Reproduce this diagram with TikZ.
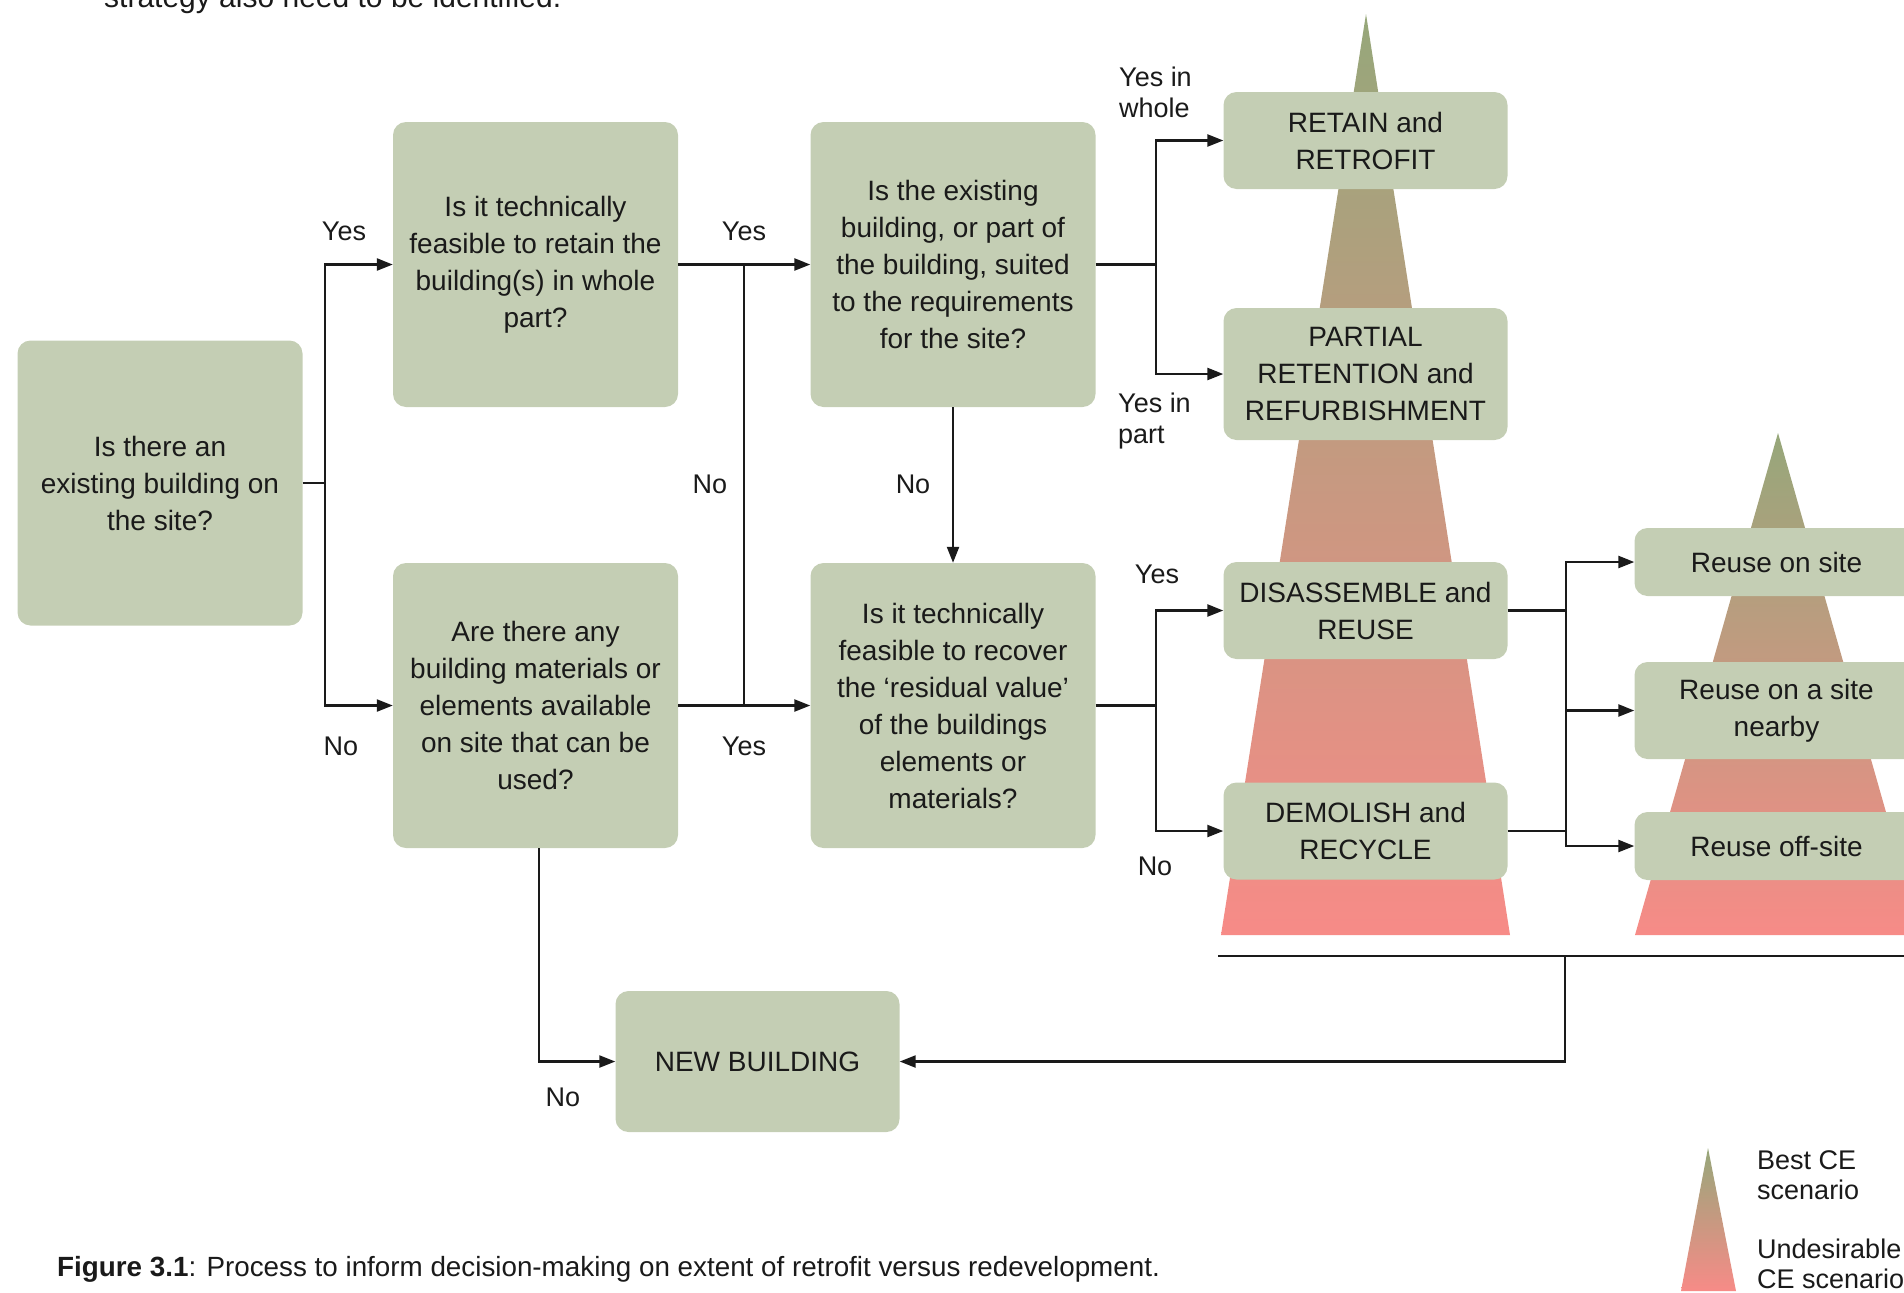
\documentclass[tikz,border=0pt]{standalone}
\usepackage{fontspec}
\setmainfont{Liberation Sans}
\usetikzlibrary{arrows.meta}
\definecolor{boxfill}{HTML}{C4CEB4}
\definecolor{ink}{HTML}{1A1A1A}
\definecolor{tipgreen}{HTML}{96A77A}
\definecolor{basepink}{HTML}{F78B87}
\begin{document}
\begin{tikzpicture}[
  x=1pt,
  y=-1pt,
  box/.style={rectangle, rounded corners=13pt, fill=boxfill, inner sep=0pt,
    align=center, text=ink, font=\fontsize{28}{37}\selectfont},
  question/.style={box, minimum width=285pt, minimum height=285pt},
  outcome/.style={box, minimum width=284pt},
  answer/.style={inner sep=0pt, text=ink, align=left,
    font=\fontsize{27}{31}\selectfont},
  flow/.style={line width=2.3pt, draw=ink},
  arrow/.style={flow, -{Triangle[length=16pt,width=12pt]}},
  peak/.style={top color=tipgreen, bottom color=basepink}]
\useasboundingbox (0,0) rectangle (1904,1293);
% end of the paragraph above the figure, cut by the page
\node[anchor=base west, inner sep=0pt, text=ink, font=\fontsize{30}{36}\selectfont]
  (prev) at (104,7) {strategy also need to be identified.};
% scenario triangles
\shade[peak] (1366,14) -- (1510,935) -- (1221,935) -- cycle;
\shade[peak] (1778,433) -- (1921,935) -- (1635,935) -- cycle;
\shade[peak] (1708,1148) -- (1736,1291) -- (1681,1291) -- cycle;
\draw[line width=2.6pt, ink] (1218,956) -- (1904,956);
% questions
\path
  (160,483) node[question] (exist) {Is there an\\existing building on\\the site?}
  (535.5,264.5) node[question] (retain) {Is it technically\\feasible to retain the\\building(s) in whole\\part?}
  (953,264.5) node[question] (suited) {Is the existing\\building, or part of\\the building, suited\\to the requirements\\for the site?}
  (535.5,705.5) node[question] (materials) {Are there any\\building materials or\\elements available\\on site that can be\\used?}
  (953,705.5) node[question] (recover) {Is it technically\\feasible to recover\\the ‘residual value’\\of the buildings\\elements or\\materials?}
  ;
% outcomes
\path
  (757.5,1061.5) node[outcome, minimum height=141pt] (newbuild) {NEW BUILDING}
  (1365.5,140.5) node[outcome, minimum height=97pt] (retrofit) {RETAIN and\\RETROFIT}
  (1365.5,374) node[outcome, minimum height=132pt] (partial) {PARTIAL\\RETENTION and\\REFURBISHMENT}
  (1365.5,610.5) node[outcome, minimum height=97pt] (disassemble) {DISASSEMBLE and\\REUSE}
  (1365.5,831) node[outcome, minimum height=97pt] (demolish) {DEMOLISH and\\RECYCLE}
  (1776.5,562) node[outcome, minimum height=68pt] (onsite) {Reuse on site}
  (1776.5,710.5) node[outcome, minimum height=97pt] (nearby) {Reuse on a site\\nearby}
  (1776.5,846) node[outcome, minimum height=68pt] (offsite) {Reuse off-site}
  ;
% junctions
\coordinate (ja) at (325,483);
\coordinate (jb) at (744,264.5);
\coordinate (jc) at (1156,264.5);
\coordinate (je) at (1156,705.5);
\coordinate (jr) at (1566,610.5);
\coordinate (jn) at (1565,956);
% connectors
\draw[flow] (exist.east) -- (ja);
\draw[arrow] (ja) |- (retain.west);
\draw[arrow] (ja) |- (materials.west);
\draw[arrow] (retain.east) -- (suited.west);
\draw[arrow] (materials.east) -- (recover.west);
\draw[flow] (jb) -- (jb |- recover.west);
\draw[arrow] (suited.south) -- (recover.north);
\draw[flow] (suited.east) -- (jc);
\draw[arrow] (jc) |- (retrofit.west);
\draw[arrow] (jc) |- (partial.west);
\draw[flow] (recover.east) -- (je);
\draw[arrow] (je) |- (disassemble.west);
\draw[arrow] (je) |- (demolish.west);
\draw[flow] (disassemble.east) -- (jr);
\draw[flow] (demolish.east) -- (demolish.east -| jr);
\foreach \t in {onsite, nearby, offsite}
  \draw[arrow] (jr) |- (\t.west);
\draw[arrow] ([xshift=3.5pt]materials.south) |- (newbuild.west);
\draw[arrow] (jn) |- (newbuild.east);
% answers
\begin{scope}[every node/.style={answer}]
\path
  (344,231) node (yesretain) {Yes}
  (341,746) node (nomaterials) {No}
  (744,231) node (yessuited) {Yes}
  (710,484) node (noretain) {No}
  (744,746) node (yesrecover) {Yes}
  (913,484) node (nosuited) {No}
  (1157,574) node (yesdis) {Yes}
  (1155,866) node (nodem) {No}
  (563,1097) node (nonew) {No}
  (1119,92) node[anchor=west] (yeswhole) {Yes in\\whole}
  (1118,421) node[anchor=west] (yespart) {Yes in\\part}
  ;
\end{scope}
% legend
\begin{scope}[every node/.style={answer, anchor=west, font=\fontsize{27}{30}\selectfont}]
\path
  (1757,1175) node (best) {Best CE\\scenario}
  (1757,1264) node (worst) {Undesirable\\CE scenario}
  ;
\end{scope}
% caption
\node[anchor=base west, inner sep=0pt, text=ink, font=\fontsize{27.8}{33}\selectfont]
  (caption) at (57,1276) {\textbf{Figure 3.1}: Process to inform decision-making on extent of retrofit versus redevelopment.};
\end{tikzpicture}
\end{document}
